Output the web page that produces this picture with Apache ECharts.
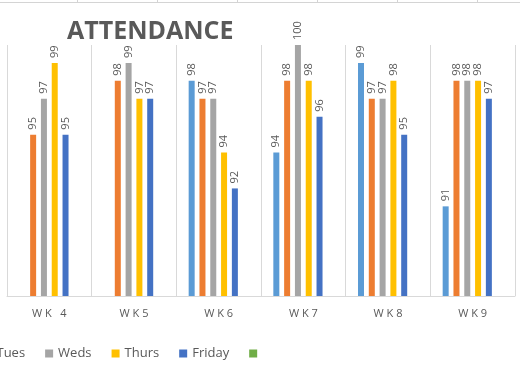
<!DOCTYPE html>
<html>
<head>
<meta charset="utf-8">
<script src="https://cdn.jsdelivr.net/npm/echarts@6/dist/echarts.min.js"></script>
<style>html,body{margin:0;padding:0;background:#fff;}#c{width:520px;height:370px;}</style>
</head>
<body>
<div id="c"></div>
<script>
var categories = ['WK 4', 'WK5', 'WK6', 'WK7', 'WK8', 'WK9'];
var seriesNames = ['Mon', 'Tues', 'Weds', 'Thurs', 'Friday', ' '];
var mon    = [null, null, 98, 94, 99, 91];
var tues   = [95, 98, 97, 98, 97, 98];
var weds   = [97, 99, 97, 100, 97, 98];
var thurs  = [99, 97, 94, 98, 98, 98];
var friday = [95, 97, 92, 96, 95, 97];
var extra  = [null, null, null, null, null, null];
var colors = ['#5B9BD5', '#ED7D31', '#A5A5A5', '#FFC000', '#4472C4', '#70AD47'];
var values = [mon, tues, weds, thurs, friday, extra];

var chart = echarts.init(document.getElementById('c'), null, {renderer: 'canvas'});
var series = values.map(function (d, i) {
  return {
    name: seriesNames[i],
    type: 'bar',
    data: d,
    barWidth: 6,
    barGap: '80%',
    itemStyle: {color: colors[i]},
    label: {
      show: true,
      position: 'top',
      rotate: 90,
      align: 'left',
      verticalAlign: 'middle',
      distance: 5,
      color: '#595959',
      fontSize: 11,
      fontFamily: 'Open Sans'
    }
  };
});
var topTicks = [77, 157, 237, 317, 397, 477];
var graphics = [{type: 'line', shape: {x1: 0, y1: 2.5, x2: 520, y2: 2.5}, style: {stroke: '#d4d4d4', lineWidth: 1}}];
topTicks.forEach(function (x) {
  graphics.push({type: 'line', shape: {x1: x + 0.5, y1: 0, x2: x + 0.5, y2: 3}, style: {stroke: '#d4d4d4', lineWidth: 1}});
});
chart.setOption({
  animation: false,
  backgroundColor: '#fff',
  title: {
    text: 'ATTENDANCE',
    left: 62,
    top: 14,
    textStyle: {fontSize: 25, fontWeight: 'bold', color: '#595959', fontFamily: 'Open Sans'}
  },
  legend: {
    data: seriesNames,
    left: -82,
    top: 342,
    icon: 'rect',
    itemWidth: 8,
    itemHeight: 8,
    itemGap: 20,
    textStyle: {fontSize: 13, color: '#595959', fontFamily: 'Open Sans'}
  },
  grid: {left: 7, right: 5, top: 45, bottom: 74},
  xAxis: {
    type: 'category',
    data: categories,
    axisLine: {lineStyle: {color: '#d9d9d9'}},
    axisTick: {show: false},
    splitLine: {show: true, lineStyle: {color: '#d9d9d9'}},
    axisLabel: {
      color: '#595959',
      fontSize: 11,
      margin: 12,
      fontFamily: 'Open Sans',
      formatter: function (v) { return v.split('').join(' '); }
    }
  },
  yAxis: {type: 'value', min: 86, max: 100, show: false, splitLine: {show: false}},
  graphic: graphics,
  series: series
});
</script>
</body>
</html>
